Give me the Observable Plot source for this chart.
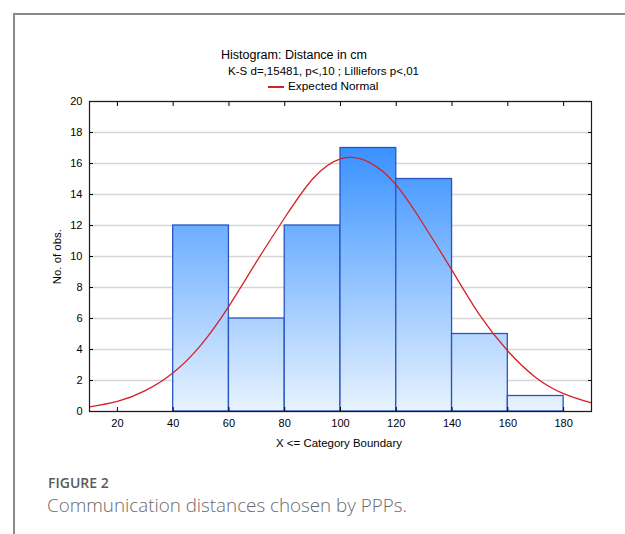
<!DOCTYPE html>
<html>
<head>
<meta charset="utf-8">
<script src="https://cdn.jsdelivr.net/npm/d3@7"></script>
<script src="https://cdn.jsdelivr.net/npm/@observablehq/plot@0.6"></script>
<style>
  html, body { margin: 0; padding: 0; background: #fff; }
  #wrap { position: relative; width: 625px; height: 534px; overflow: hidden; }
  #wrap svg { position: absolute; left: 0; top: 0; }
  .t { position: absolute; font-family: "Liberation Sans", Arial, sans-serif; color: #000; white-space: nowrap; line-height: 1; }
  .frameTop { position: absolute; left: 13px; top: 13px; width: 612px; height: 2px; background: #8a8a8a; }
  .frameLeft { position: absolute; left: 13px; top: 13px; width: 2px; height: 521px; background: #8a8a8a; }
  .legline { position: absolute; left: 268px; top: 86px; width: 16px; height: 1.5px; background: #d42228; }
</style>
</head>
<body>
<div id="wrap">
  <div class="frameTop"></div>
  <div class="frameLeft"></div>
  <div class="t" style="left:221px;top:49.4px;font-size:12.5px;">Histogram: Distance in cm</div>
  <div class="t" style="left:228px;top:66.2px;font-size:11.55px;">K-S d=,15481, p&lt;,10 ; Lilliefors p&lt;,01</div>
  <div class="legline"></div>
  <div class="t" style="left:288px;top:81px;font-size:11.8px;">Expected Normal</div>
  <div class="t" style="left:27.5px;top:250.5px;width:60px;text-align:center;font-size:11.4px;transform:rotate(-90deg);transform-origin:50% 50%;">No. of obs.</div>
  <div class="t" style="left:239px;width:200px;text-align:center;top:438.3px;font-size:11.45px;">X &lt;= Category Boundary</div>
  <div class="t" style="left:48px;top:475.6px;font-family:'Open Sans',sans-serif;font-weight:600;font-size:14px;color:#5a5a5a;">FIGURE 2</div>
  <div class="t" style="left:47px;top:495.8px;font-family:'Open Sans',sans-serif;font-weight:300;font-size:18.8px;color:#6a6a6a;">Communication distances chosen by PPPs.</div>
</div>
<script>
// Histogram bins (category boundaries) and counts
const binStart = [40, 60, 80, 100, 120, 140, 160];
const binEnd   = [60, 80, 100, 120, 140, 160, 180];
const counts   = [12, 6, 12, 17, 15, 5, 1];

// Expected normal curve
const curveX = [10, 20, 30, 40, 50, 60, 70, 80, 90, 100, 110, 120, 130, 140, 150, 160, 170, 180, 190];
const curveY = [0.3, 0.65, 1.35, 2.5, 4.3, 6.8, 9.7, 12.5, 15.0, 16.3, 16.1, 14.6, 12.0, 9.1, 6.2, 3.9, 2.2, 1.15, 0.55];

const xTicks = [20, 40, 60, 80, 100, 120, 140, 160, 180];
const yTicks = [0, 2, 4, 6, 8, 10, 12, 14, 16, 18, 20];

const bars = binStart.map((s, i) => ({x1: s, x2: binEnd[i], y: counts[i]}));
const curve = curveX.map((x, i) => ({x, y: curveY[i]}));

const font = "Liberation Sans, Arial, sans-serif";

const chart = Plot.plot({
  width: 625,
  height: 534,
  marginLeft: 89,
  marginRight: 34,
  marginTop: 101,
  marginBottom: 123,
  style: {fontFamily: font, fontSize: "11px", color: "#000", background: "transparent"},
  x: {domain: [10, 190]},
  y: {domain: [0, 20]},
  marks: [
    Plot.gridY(yTicks, {stroke: "#d6d6d6", strokeOpacity: 1, strokeWidth: 1.6}),
    Plot.rectY(bars, {x1: "x1", x2: "x2", y: "y", fill: "url(#barGrad)", stroke: "#2a55c0", strokeWidth: 1.3}),
    Plot.line(curve, {x: "x", y: "y", stroke: "#d42228", strokeWidth: 1.3, curve: "natural"}),
    Plot.axisX(xTicks, {anchor: "bottom", tickSize: 0, tickPadding: 8, label: null, fontSize: 11}),
    Plot.axisX(xTicks, {anchor: "bottom", tickSize: -4, text: null, label: null}),
    Plot.axisX(xTicks, {anchor: "top", tickSize: -4, text: null, label: null}),
    Plot.axisY(yTicks, {anchor: "left", tickSize: 0, tickPadding: 7, label: null, fontSize: 11}),
    Plot.axisY(yTicks, {anchor: "left", tickSize: -4, text: null, label: null}),
    Plot.axisY(yTicks, {anchor: "right", tickSize: -4, text: null, label: null}),
    Plot.frame({stroke: "#1a1a1a", strokeWidth: 1.2})
  ]
});

// vertical gradient fixed to plot area
const svg = d3.select(chart);
const defs = svg.insert("defs", ":first-child");
const g = defs.append("linearGradient")
  .attr("id", "barGrad")
  .attr("gradientUnits", "userSpaceOnUse")
  .attr("x1", 0).attr("x2", 0)
  .attr("y1", 101).attr("y2", 411);
g.append("stop").attr("offset", "0%").attr("stop-color", "#1a80ff");
g.append("stop").attr("offset", "100%").attr("stop-color", "#e8f3ff");

document.getElementById("wrap").appendChild(chart);
</script>
</body>
</html>
